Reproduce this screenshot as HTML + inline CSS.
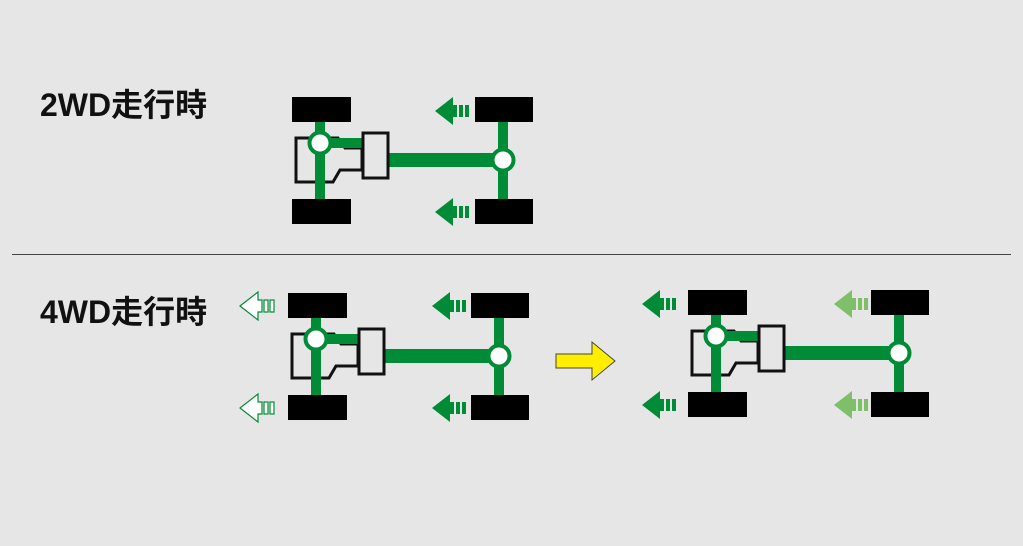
<!DOCTYPE html>
<html><head><meta charset="utf-8"><style>
body{margin:0;background:#e6e6e6;}
svg{display:block}
text{font-family:"Liberation Sans","Noto Sans CJK JP",sans-serif;font-weight:bold;font-size:32px;fill:#111}
</style></head><body>
<svg width="1023" height="546" viewBox="0 0 1023 546" xmlns="http://www.w3.org/2000/svg">
<defs>
<g id="ch">
  <polygon points="296,138 338,138 345,148 362,148 362,170 340,170 333,182 296,182" fill="none" stroke="#111" stroke-width="3"/>
  <rect x="292" y="97" width="59" height="25" fill="#000"/>
  <rect x="292" y="199" width="59" height="25" fill="#000"/>
  <rect x="475" y="97" width="58" height="25" fill="#000"/>
  <rect x="475" y="199" width="58" height="25" fill="#000"/>
  <rect x="315" y="122" width="10" height="77" fill="#008c36"/>
  <rect x="498" y="122" width="10" height="77" fill="#008c36"/>
  <rect x="320" y="138" width="44" height="10" fill="#008c36"/>
  <rect x="388" y="153" width="115" height="14" fill="#008c36"/>
  <rect x="363" y="133" width="25" height="45" fill="#e6e6e6" stroke="#111" stroke-width="3"/>
  <circle cx="320" cy="143" r="10.5" fill="#fff" stroke="#008c36" stroke-width="4"/>
  <circle cx="503" cy="160" r="10.5" fill="#fff" stroke="#008c36" stroke-width="4"/>
</g>
<g id="ar">
  <polygon points="0,0 18,-14 18,-6 22,-6 22,6 18,6 18,14"/>
  <rect x="24" y="-6" width="4" height="12"/>
  <rect x="30" y="-6" width="4" height="12"/>
</g>
</defs>

<text x="40" y="116">2WD走行時</text>
<text x="40" y="323">4WD走行時</text>
<line x1="12" y1="254.5" x2="1011" y2="254.5" stroke="#444" stroke-width="1"/>

<use href="#ch"/>
<use href="#ar" x="435" y="111" fill="#008c36"/>
<use href="#ar" x="435" y="212" fill="#008c36"/>

<use href="#ch" x="-4" y="196"/>
<use href="#ar" x="432" y="306" fill="#008c36"/>
<use href="#ar" x="432" y="408" fill="#008c36"/>
<use href="#ar" x="240" y="306" fill="#fff" stroke="#008c36" stroke-width="1.2"/>
<use href="#ar" x="240" y="408" fill="#fff" stroke="#008c36" stroke-width="1.2"/>

<polygon points="556,354 592,354 592,342 615,361 592,380 592,368 556,368" fill="#ffee00" stroke="#444" stroke-width="1"/>

<use href="#ch" x="396" y="193"/>
<use href="#ar" x="642" y="304" fill="#008c36"/>
<use href="#ar" x="642" y="405" fill="#008c36"/>
<use href="#ar" x="834" y="304" fill="#7fbf6a"/>
<use href="#ar" x="834" y="405" fill="#7fbf6a"/>
</svg>
</body></html>
